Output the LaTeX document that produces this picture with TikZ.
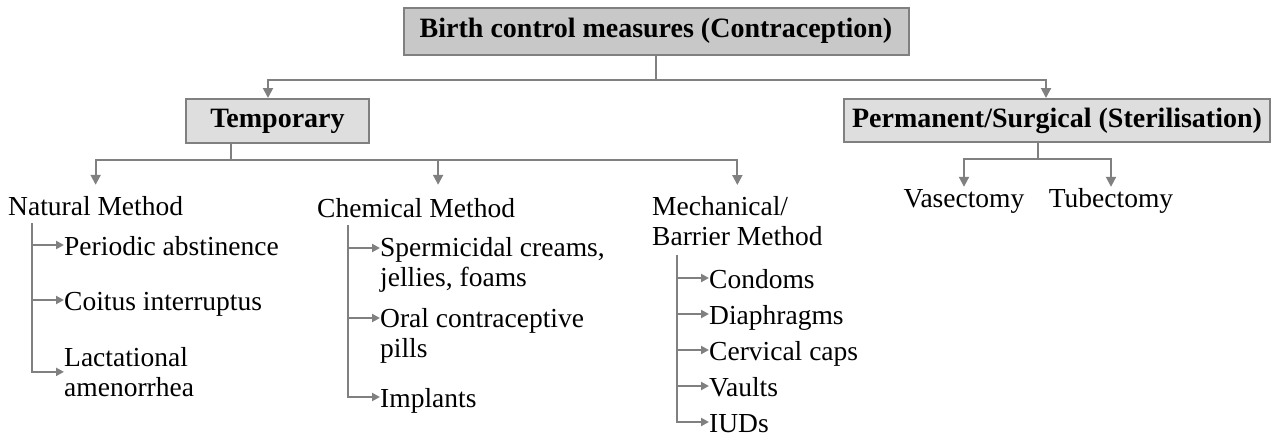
\documentclass[tikz,border=0pt]{standalone}
\usepackage{fontspec}
\setmainfont{Liberation Serif}
\usetikzlibrary{arrows.meta,positioning,calc}
\definecolor{linegray}{RGB}{128,128,128}
\definecolor{boxdark}{RGB}{200,200,200}
\definecolor{boxlight}{RGB}{222,222,222}

\begin{document}
\begin{tikzpicture}[x=1pt,y=-1pt,
    conn/.style={draw=linegray,line width=2pt},
    arr/.style={conn,-{Triangle[width=10pt,length=10pt]}},
    subarr/.style={conn,-{Triangle[width=8pt,length=8pt]}},
    headbox/.style={draw=linegray,line width=2pt,fill=boxdark,inner sep=0pt,minimum height=47pt,font=\fontsize{28}{30}\selectfont\bfseries},
    subbox/.style={headbox,fill=boxlight,minimum height=44pt},
    item/.style={inner sep=0pt,text height=20pt,text depth=0pt,font=\fontsize{27.5}{30}\selectfont},
    item2/.style={inner sep=0pt,align=left,font=\fontsize{27.5}{30}\selectfont}]
\useasboundingbox (0,0) rectangle (1273,439);
\node[headbox,minimum width=505pt] (birth) at (656,31) {Birth control measures (Contraception)};
\node[subbox,minimum width=183pt] (temp) at (277.5,121) {Temporary};
\node[subbox,minimum width=426pt,minimum height=43pt] (perm) at (1057,120.5) {Permanent/Surgical (Sterilisation)};
\node[item,anchor=base west] (natural) at (8,215) {Natural Method};
\node[item,anchor=base west] (chemical) at (317,217) {Chemical Method};
\node[item2,anchor=north west] (mech) at (652,196) {Mechanical/\\Barrier Method};
\node[item,anchor=base] (vas) at (964,207) {Vasectomy};
\node[item,anchor=base] (tub) at (1111,207) {Tubectomy};
\node[item,anchor=base west] (periodic) at (64,255) {Periodic abstinence};
\node[item,anchor=base west] (coitus) at (64,310) {Coitus interruptus};
\node[item2,anchor=north west] (lact) at (64,347) {Lactational\\amenorrhea};
\node[item2,anchor=north west] (sperm) at (380,237) {Spermicidal creams,\\jellies, foams};
\node[item2,anchor=north west] (oral) at (380,308) {Oral contraceptive\\pills};
\node[item,anchor=base west] (implants) at (380,407) {Implants};
\foreach \t [count=\i] in {Condoms,Diaphragms,Cervical caps,Vaults,IUDs}
    \node[item,anchor=base west] (bar\i) at (709,{252+36*\i}) {\t};

\draw[conn] (birth.south) -- ++(0,24) coordinate (topbus);
\draw[arr] (topbus) -| ([xshift=-9.5pt]temp.north);
\draw[arr] (topbus) -| ([xshift=-11pt]perm.north);
\draw[conn] ([xshift=-46.5pt]temp.south) -- ++(0,16) coordinate (tempbus);
\draw[arr] (tempbus) -| ([yshift=10pt]natural.north);
\draw[arr] (tempbus) -| ([xshift=22pt,yshift=12pt]chemical.north);
\draw[arr] (tempbus) -| ([yshift=11pt]mech.north);
\draw[conn] ([xshift=-19pt]perm.south) -- ++(0,16) coordinate (permbus);
\draw[arr] (permbus) -| (vas.north);
\draw[arr] (permbus) -| (tub.north);

\coordinate (ntrunk) at ([xshift=24pt,yshift=-8pt]natural.south west);
\draw[subarr] (ntrunk) |- (lact.west);
\draw[subarr] (ntrunk |- periodic.west) -- (periodic.west);
\draw[subarr] (ntrunk |- coitus.west) -- (coitus.west);

\coordinate (ctrunk) at ([xshift=31pt,yshift=-8pt]chemical.south west);
\coordinate (sp) at ([yshift=-11pt]sperm.north west);
\coordinate (or) at ([yshift=-10pt]oral.north west);
\draw[subarr] (ctrunk) |- (implants.west);
\draw[subarr] (ctrunk |- sp) -- (sp);
\draw[subarr] (ctrunk |- or) -- (or);

\coordinate (mtrunk) at ([xshift=25pt,yshift=-9pt]mech.south west);
\draw[subarr] (mtrunk) |- (bar5.west);
\foreach \i in {1,...,4}
    \draw[subarr] (mtrunk |- bar\i.west) -- (bar\i.west);
\end{tikzpicture}
\end{document}
